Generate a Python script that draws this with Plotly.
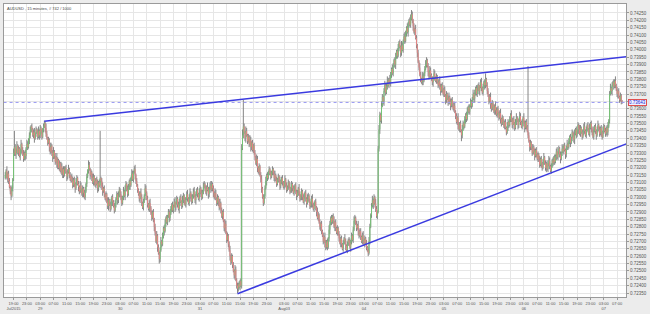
import plotly.graph_objects as go
import pandas as pd

# ---------------- data ----------------
title_text = "AUDUSD , 15 minutes, # 742 / 1000"
price_base = 0.72          # closes / wicks are given in 0.00001 units above this
pip_unit = 0.00001
first_open = 1130

close_pts = [
    1150, 1180, 1130, 1160, 1110, 1070, 1040, 1010, 1060, 1120, 1300, 1340, 1290, 1320, 1350, 1300, 1330, 1280, 1310, 1360,
    1320, 1290, 1260, 1300, 1280, 1330, 1360, 1340, 1390, 1420, 1450, 1480, 1460, 1420, 1440, 1400, 1430, 1460, 1440, 1410,
    1450, 1420, 1470, 1440, 1410, 1460, 1480, 1500, 1470, 1430, 1400, 1370, 1390, 1340, 1310, 1350, 1300, 1270, 1310, 1280,
    1240, 1270, 1220, 1250, 1200, 1230, 1180, 1210, 1160, 1190, 1150, 1180, 1200, 1170, 1140, 1170, 1190, 1150, 1120, 1140,
    1110, 1080, 1120, 1090, 1060, 1100, 1130, 1090, 1070, 1040, 1080, 1050, 1020, 1060, 1030, 1000, 1040, 1090, 1140, 1180,
    1220, 1190, 1150, 1170, 1130, 1100, 1140, 1110, 1080, 1120, 1090, 1060, 1100, 1080, 1130, 1110, 1070, 1040, 1060, 1020,
    990, 1020, 970, 940, 980, 950, 920, 960, 1000, 970, 940, 910, 950, 990, 1020, 980, 1010, 1050, 1020, 990,
    960, 1000, 1040, 1010, 1060, 1090, 1050, 1020, 1070, 1110, 1080, 1130, 1160, 1120, 1170, 1190, 1150, 1110, 1080, 1050,
    1020, 990, 1030, 1000, 960, 930, 970, 1010, 1060, 1030, 990, 950, 920, 960, 930, 890, 860, 900, 850, 800,
    760, 700, 740, 660, 620, 580, 640, 700, 680, 740, 790, 770, 820, 860, 830, 870, 900, 860, 890, 920,
    950, 910, 940, 970, 930, 960, 990, 950, 920, 960, 1000, 970, 940, 980, 1010, 980, 950, 990, 1020, 990,
    960, 1000, 1030, 1000, 970, 1010, 1040, 1010, 980, 1020, 1050, 1020, 990, 1030, 1060, 1030, 1000, 1040, 1070, 1090,
    1060, 1030, 1070, 1050, 1020, 1060, 1080, 1050, 1090, 1060, 1030, 1000, 1030, 990, 960, 1000, 970, 930, 960, 910,
    870, 900, 840, 790, 820, 760, 710, 740, 680, 640, 600, 560, 600, 540, 500, 470, 510, 440, 400, 380,
    410, 390, 430, 400, 1330, 1420, 1480, 1440, 1400, 1450, 1420, 1380, 1410, 1360, 1390, 1340, 1370, 1320, 1350, 1300,
    1270, 1230, 1260, 1200, 1170, 1210, 1150, 1120, 1060, 1000, 960, 1010, 1060, 1110, 1150, 1130, 1170, 1190, 1160, 1140,
    1170, 1190, 1160, 1130, 1150, 1120, 1090, 1120, 1140, 1110, 1080, 1100, 1130, 1100, 1070, 1090, 1120, 1080, 1050, 1070,
    1100, 1070, 1040, 1060, 1090, 1060, 1030, 1050, 1080, 1040, 1010, 1030, 1060, 1020, 990, 1010, 1040, 1000, 970, 1000,
    1030, 990, 960, 990, 1010, 970, 940, 960, 990, 950, 920, 950, 970, 930, 900, 860, 880, 830, 800, 820,
    770, 740, 700, 730, 690, 660, 700, 660, 720, 780, 820, 860, 830, 870, 840, 800, 830, 790, 760, 790,
    750, 720, 690, 720, 680, 650, 690, 720, 700, 670, 640, 680, 710, 690, 660, 700, 740, 710, 780, 840,
    860, 820, 790, 810, 770, 740, 770, 730, 700, 740, 710, 680, 720, 690, 660, 640, 620, 700, 800, 880,
    940, 980, 950, 1000, 960, 920, 870, 900, 1330, 1460, 1560, 1520, 1620, 1680, 1650, 1720, 1760, 1710, 1750, 1790,
    1760, 1800, 1780, 1830, 1870, 1840, 1890, 1930, 1900, 1950, 1990, 1960, 2010, 2050, 2020, 1980, 2030, 2000, 2060, 2090,
    2060, 2110, 2150, 2120, 2170, 2200, 2170, 2210, 2240, 2200, 2160, 2120, 2140, 2080, 2030, 1980, 1920, 1880, 1830, 1800,
    1780, 1820, 1790, 1840, 1870, 1900, 1930, 1890, 1850, 1820, 1860, 1830, 1800, 1780, 1810, 1840, 1810, 1790, 1820, 1780,
    1760, 1790, 1750, 1720, 1760, 1730, 1700, 1730, 1690, 1660, 1700, 1670, 1640, 1680, 1650, 1620, 1660, 1630, 1600, 1620,
    1580, 1550, 1510, 1540, 1490, 1460, 1500, 1450, 1420, 1460, 1500, 1480, 1530, 1560, 1530, 1580, 1610, 1580, 1620, 1650,
    1620, 1660, 1700, 1670, 1710, 1740, 1700, 1730, 1760, 1720, 1750, 1780, 1740, 1710, 1750, 1780, 1760, 1800, 1760, 1720,
    1690, 1650, 1680, 1630, 1600, 1640, 1610, 1580, 1620, 1590, 1560, 1600, 1570, 1540, 1570, 1530, 1500, 1540, 1510, 1480,
    1510, 1470, 1440, 1480, 1510, 1490, 1530, 1560, 1520, 1490, 1530, 1500, 1470, 1510, 1540, 1520, 1490, 1520, 1550, 1510,
    1480, 1510, 1540, 1500, 1470, 1510, 1480, 1450, 1420, 1380, 1340, 1370, 1330, 1300, 1340, 1310, 1280, 1320, 1290, 1260,
    1290, 1250, 1220, 1260, 1230, 1200, 1240, 1270, 1230, 1200, 1230, 1190, 1220, 1250, 1210, 1180, 1210, 1250, 1230, 1270,
    1240, 1280, 1310, 1270, 1300, 1330, 1290, 1260, 1300, 1330, 1310, 1350, 1320, 1290, 1330, 1360, 1340, 1380, 1410, 1370,
    1400, 1440, 1420, 1390, 1430, 1460, 1420, 1450, 1490, 1460, 1430, 1470, 1440, 1410, 1450, 1480, 1450, 1420, 1460, 1490,
    1460, 1430, 1470, 1500, 1470, 1440, 1410, 1450, 1480, 1450, 1420, 1460, 1490, 1460, 1430, 1470, 1440, 1410, 1450, 1480,
    1450, 1430, 1470, 1440, 1480, 1520, 1700, 1740, 1720, 1760, 1780, 1750, 1790, 1760, 1730, 1700, 1720, 1680, 1660, 1690,
    1650, 1643,
]

# wick lengths above / below the candle body, in units of 10 x 0.00001
wick_up = [
    2, 1, 3, 1, 2, 2, 1, 3, 2, 1, 3, 11, 2, 1, 3, 1, 2, 1, 2, 3,
    1, 2, 3, 1, 2, 1, 3, 2, 1, 2, 3, 1, 2, 1, 2, 3, 1, 2, 1, 2,
    3, 1, 2, 1, 2, 1, 2, 2, 1, 3, 2, 1, 2, 1, 3, 2, 1, 2, 3, 1,
    2, 1, 3, 2, 1, 2, 1, 3, 2, 1, 2, 3, 1, 2, 1, 2, 3, 1, 2, 1,
    2, 3, 1, 2, 1, 3, 2, 1, 2, 1, 3, 2, 1, 2, 1, 2, 3, 1, 2, 1,
    3, 2, 1, 2, 1, 3, 2, 1, 2, 1, 2, 3, 1, 2, 32, 1, 2, 3, 1, 2,
    1, 2, 1, 3, 2, 1, 2, 3, 1, 2, 1, 2, 3, 1, 2, 1, 3, 2, 1, 2,
    2, 1, 3, 1, 2, 2, 1, 3, 2, 1, 2, 1, 3, 2, 1, 2, 3, 1, 2, 1,
    1, 2, 1, 3, 2, 1, 2, 1, 3, 2, 1, 2, 1, 2, 3, 1, 2, 1, 2, 1,
    2, 1, 3, 1, 2, 1, 2, 3, 1, 2, 1, 2, 3, 1, 2, 1, 2, 1, 3, 2,
    1, 2, 1, 2, 3, 1, 2, 1, 2, 3, 1, 2, 1, 3, 2, 1, 2, 1, 2, 3,
    1, 2, 3, 1, 2, 1, 2, 3, 1, 2, 1, 2, 1, 3, 2, 1, 2, 1, 3, 2,
    1, 2, 1, 3, 2, 1, 2, 3, 2, 1, 2, 1, 3, 2, 1, 2, 1, 2, 3, 1,
    2, 1, 2, 1, 3, 2, 1, 2, 1, 2, 3, 1, 2, 1, 2, 1, 3, 2, 1, 2,
    1, 2, 1, 2, 3, 4, 18, 2, 1, 3, 2, 1, 2, 1, 3, 2, 1, 2, 1, 2,
    2, 1, 3, 2, 1, 2, 1, 2, 3, 1, 2, 1, 2, 3, 1, 2, 1, 2, 1, 2,
    1, 2, 1, 2, 3, 1, 2, 1, 2, 1, 3, 2, 1, 2, 1, 2, 3, 1, 2, 1,
    2, 1, 3, 1, 2, 1, 2, 3, 1, 2, 1, 2, 1, 3, 2, 1, 2, 1, 2, 3,
    1, 2, 1, 3, 2, 1, 2, 1, 2, 3, 1, 2, 1, 2, 1, 3, 2, 1, 2, 1,
    2, 1, 2, 1, 3, 2, 1, 2, 1, 3, 2, 1, 2, 1, 2, 3, 1, 2, 1, 2,
    1, 2, 3, 1, 2, 1, 2, 1, 3, 2, 1, 2, 1, 2, 3, 1, 2, 1, 2, 3,
    2, 1, 2, 1, 3, 2, 1, 2, 1, 2, 3, 1, 2, 1, 2, 1, 2, 3, 2, 1,
    2, 3, 1, 2, 1, 3, 2, 1, 2, 3, 2, 1, 3, 2, 1, 2, 3, 1, 2, 3,
    2, 1, 3, 2, 1, 3, 2, 1, 2, 3, 1, 2, 3, 1, 2, 1, 3, 2, 1, 2,
    3, 2, 1, 3, 2, 1, 2, 3, 3, 2, 1, 2, 1, 3, 2, 1, 2, 1, 3, 2,
    1, 3, 2, 1, 2, 3, 2, 1, 2, 1, 3, 2, 1, 2, 1, 3, 2, 1, 2, 1,
    2, 1, 3, 2, 1, 2, 1, 3, 2, 1, 2, 1, 2, 3, 1, 2, 1, 2, 1, 3,
    2, 1, 2, 1, 3, 2, 1, 2, 1, 3, 2, 1, 2, 1, 2, 3, 1, 2, 1, 2,
    1, 2, 3, 1, 2, 1, 2, 3, 1, 2, 1, 2, 3, 1, 2, 1, 2, 4, 1, 2,
    2, 1, 2, 3, 1, 2, 1, 2, 1, 3, 2, 1, 2, 1, 2, 3, 1, 2, 1, 2,
    1, 2, 1, 3, 2, 1, 2, 1, 3, 2, 1, 2, 1, 2, 3, 1, 2, 1, 3, 2,
    1, 2, 1, 3, 2, 1, 2, 1, 44, 2, 1, 2, 1, 3, 2, 1, 2, 1, 2, 1,
    2, 1, 3, 1, 2, 1, 2, 3, 1, 2, 1, 2, 1, 3, 2, 1, 2, 1, 2, 1,
    2, 1, 2, 3, 1, 2, 1, 2, 1, 3, 2, 1, 2, 1, 2, 3, 1, 2, 1, 2,
    1, 2, 1, 2, 3, 1, 2, 1, 2, 1, 3, 2, 1, 2, 1, 2, 3, 1, 2, 1,
    2, 1, 3, 1, 2, 1, 2, 3, 1, 2, 1, 2, 3, 1, 2, 1, 2, 1, 3, 2,
    1, 2, 1, 2, 3, 1, 2, 3, 1, 2, 1, 2, 1, 3, 1, 2, 1, 2, 1, 2,
    1, 1,
]

wick_dn = [
    1, 2, 1, 3, 2, 1, 2, 3, 1, 2, 1, 2, 1, 3, 2, 1, 2, 1, 3, 2,
    2, 1, 2, 1, 3, 2, 1, 2, 1, 3, 2, 1, 2, 1, 2, 3, 1, 2, 1, 2,
    1, 3, 2, 1, 2, 1, 2, 1, 3, 2, 1, 2, 1, 3, 2, 1, 2, 3, 1, 2,
    2, 1, 2, 3, 1, 2, 1, 2, 1, 3, 2, 1, 2, 1, 3, 2, 1, 2, 1, 2,
    1, 2, 1, 2, 3, 1, 2, 1, 3, 2, 1, 2, 1, 2, 3, 1, 2, 1, 2, 1,
    2, 1, 3, 1, 2, 1, 2, 3, 1, 2, 1, 3, 2, 1, 2, 1, 2, 3, 1, 2,
    1, 2, 1, 2, 3, 1, 2, 1, 2, 3, 1, 2, 1, 2, 1, 3, 2, 1, 2, 1,
    2, 1, 2, 1, 3, 2, 1, 2, 1, 2, 3, 1, 2, 1, 2, 1, 3, 2, 1, 2,
    1, 2, 3, 1, 2, 1, 2, 1, 3, 2, 1, 2, 1, 2, 3, 1, 2, 1, 2, 3,
    2, 1, 2, 3, 1, 3, 2, 1, 2, 1, 2, 3, 1, 2, 1, 2, 1, 3, 2, 1,
    2, 1, 2, 1, 3, 2, 1, 2, 1, 3, 2, 1, 2, 1, 2, 3, 1, 2, 1, 2,
    1, 2, 1, 3, 2, 1, 2, 1, 2, 3, 1, 2, 1, 2, 3, 1, 2, 1, 2, 1,
    2, 1, 2, 1, 3, 2, 1, 2, 1, 2, 3, 1, 2, 1, 2, 1, 3, 2, 1, 2,
    1, 2, 1, 2, 3, 1, 2, 1, 2, 1, 3, 2, 1, 2, 1, 2, 3, 1, 2, 3,
    2, 1, 2, 1, 2, 1, 2, 1, 2, 3, 1, 2, 1, 2, 1, 3, 2, 1, 2, 1,
    2, 1, 2, 3, 1, 2, 1, 2, 3, 1, 2, 1, 2, 1, 3, 2, 1, 2, 1, 2,
    1, 2, 1, 2, 3, 1, 2, 1, 2, 1, 3, 2, 1, 2, 1, 2, 3, 1, 2, 1,
    2, 1, 2, 1, 3, 2, 1, 2, 1, 2, 3, 1, 2, 1, 2, 1, 3, 2, 1, 2,
    1, 2, 3, 1, 2, 1, 2, 1, 3, 2, 1, 2, 1, 2, 3, 1, 2, 1, 2, 3,
    2, 1, 2, 1, 3, 2, 1, 2, 1, 2, 3, 1, 2, 1, 2, 1, 3, 2, 1, 2,
    1, 2, 1, 3, 2, 1, 2, 1, 2, 3, 1, 2, 1, 2, 1, 3, 2, 1, 2, 1,
    2, 1, 2, 1, 3, 2, 1, 2, 1, 2, 3, 1, 2, 1, 2, 1, 2, 1, 2, 1,
    2, 1, 3, 2, 1, 2, 1, 2, 1, 2, 3, 1, 2, 1, 2, 3, 1, 2, 1, 2,
    1, 2, 1, 3, 2, 1, 2, 1, 2, 3, 1, 2, 1, 2, 1, 3, 2, 1, 2, 1,
    2, 1, 2, 1, 3, 2, 1, 2, 1, 2, 3, 1, 2, 1, 2, 3, 1, 2, 1, 2,
    1, 2, 3, 1, 2, 1, 2, 1, 3, 2, 1, 2, 1, 2, 3, 1, 2, 1, 2, 1,
    2, 1, 2, 3, 1, 2, 1, 2, 1, 3, 2, 1, 2, 1, 2, 3, 1, 2, 1, 2,
    1, 2, 1, 2, 3, 1, 2, 1, 4, 2, 1, 2, 1, 3, 2, 1, 2, 1, 2, 1,
    2, 1, 2, 1, 3, 2, 1, 2, 1, 2, 3, 1, 2, 1, 2, 1, 3, 2, 1, 2,
    1, 2, 1, 3, 2, 1, 2, 1, 2, 3, 1, 2, 1, 2, 1, 3, 2, 1, 2, 1,
    2, 1, 2, 1, 3, 2, 1, 2, 1, 2, 3, 1, 2, 1, 2, 1, 3, 2, 1, 2,
    1, 2, 1, 2, 3, 1, 2, 1, 2, 1, 3, 2, 1, 2, 1, 2, 3, 1, 2, 1,
    2, 1, 2, 1, 3, 2, 1, 2, 1, 2, 3, 1, 2, 1, 2, 1, 2, 1, 2, 1,
    2, 1, 3, 1, 2, 1, 2, 3, 1, 2, 1, 2, 1, 3, 2, 1, 2, 1, 2, 3,
    1, 2, 1, 2, 3, 1, 2, 1, 2, 3, 1, 2, 1, 2, 1, 3, 2, 1, 2, 1,
    2, 1, 2, 1, 3, 2, 1, 2, 1, 2, 3, 1, 2, 1, 2, 1, 3, 2, 1, 2,
    1, 2, 1, 3, 2, 1, 2, 1, 2, 3, 1, 2, 1, 2, 1, 2, 3, 1, 2, 1,
    2, 1,
]

# user-drawn trend lines (bar index, price)
upper_line_bars = [47, 746]
upper_line_prices = [0.73515, 0.73953]
lower_line_bars = [279, 746]
lower_line_prices = [0.72345, 0.73362]
last_price = 0.73643

# price-axis labels (right side)
price_ticks = [round(0.7235 + 0.0005 * k, 4) for k in range(39)]
price_labels = ["%.5f" % p for p in price_ticks]

tick_hours = [3, 7, 11, 15, 19, 23]
date_hour = 3

# ---------------- build ----------------
n = len(close_pts)
opens = [first_open] + close_pts[:-1]
O = [price_base + v * pip_unit for v in opens]
C = [price_base + v * pip_unit for v in close_pts]
H = [price_base + (max(o, c) + 10 * u) * pip_unit for o, c, u in zip(opens, close_pts, wick_up)]
L = [price_base + (min(o, c) - 10 * d) * pip_unit for o, c, d in zip(opens, close_pts, wick_dn)]

session1 = pd.date_range("2015-07-28 16:30", "2015-07-31 23:45", freq="15min")
session2 = pd.date_range("2015-08-02 22:45", periods=n - len(session1), freq="15min")
times = session1.append(session2)

tickvals, ticktext = [], []
prev_month = None
for i, t in enumerate(times):
    if t.minute == 0 and t.hour in tick_hours and t.dayofweek != 6:
        lab = t.strftime("%H:%M")
        if not tickvals:
            lab += "<br>" + t.strftime("%b%Y")
            prev_month = t.month
        elif t.hour == date_hour:
            if t.month != prev_month:
                lab += "<br>" + t.strftime("%b%d")
                prev_month = t.month
            else:
                lab += "<br>" + t.strftime("%d")
        tickvals.append(i)
        ticktext.append(lab)

wx, wy = [], []
ux, uy, dx, dy = [], [], [], []
for i in range(n):
    wx += [i, i, None]
    wy += [L[i], H[i], None]
    if C[i] >= O[i]:
        ux += [i, i, None]
        uy += [O[i], C[i], None]
    else:
        dx += [i, i, None]
        dy += [O[i], C[i], None]

fig = go.Figure()
fig.add_trace(go.Scatter(x=wx, y=wy, mode="lines", line=dict(color="#858585", width=1),
                         hoverinfo="skip", showlegend=False))
fig.add_trace(go.Scatter(x=ux, y=uy, mode="lines", line=dict(color="#74c474", width=1),
                         hoverinfo="skip", showlegend=False))
fig.add_trace(go.Scatter(x=dx, y=dy, mode="lines", line=dict(color="#e68484", width=1),
                         hoverinfo="skip", showlegend=False))
fig.add_trace(go.Scatter(x=[-2, 747], y=[last_price, last_price], mode="lines",
                         line=dict(color="#9a9af2", width=1, dash="dot"), showlegend=False))
fig.add_trace(go.Scatter(x=upper_line_bars, y=upper_line_prices, mode="lines",
                         line=dict(color="#3a3ae0", width=1.5), showlegend=False))
fig.add_trace(go.Scatter(x=lower_line_bars, y=lower_line_prices, mode="lines",
                         line=dict(color="#3a3ae0", width=1.5), showlegend=False))

fam = "Liberation Sans, Arial, sans-serif"
fig.update_layout(
    width=650, height=314,
    margin=dict(l=3, r=18, t=4, b=15),
    paper_bgcolor="#ececec", plot_bgcolor="white",
    showlegend=False,
    xaxis=dict(range=[-1.5, 745.7], tickmode="array", tickvals=tickvals, ticktext=ticktext,
               tickangle=0, tickfont=dict(family=fam, size=4, color="#555555"),
               showgrid=True, gridcolor="#e6e6e6", gridwidth=1,
               ticks="outside", ticklen=2, tickcolor="#999999",
               showline=True, linecolor="#9a9a9a", linewidth=1, mirror=True, zeroline=False),
    yaxis=dict(range=[0.72323, 0.74311], side="right", tickmode="array",
               tickvals=price_ticks, ticktext=price_labels,
               tickfont=dict(family=fam, size=4.5, color="#555555"),
               showgrid=True, gridcolor="#e6e6e6",
               gridwidth=1, ticks="outside", ticklen=2, tickcolor="#999999",
               showline=True, linecolor="#9a9a9a", linewidth=1, mirror=True, zeroline=False),
    annotations=[
        dict(text=title_text, x=0, y=1, xref="paper", yref="paper", xanchor="left",
             yanchor="top", showarrow=False, xshift=1,
             font=dict(family=fam, size=4, color="#444444")),
        dict(text="%.5f" % last_price, x=1, y=last_price, xref="paper", yref="y",
             xanchor="left", yanchor="middle", showarrow=False, xshift=2,
             bgcolor="#eef0ff", bordercolor="#e05050", borderwidth=1, borderpad=0,
             font=dict(family=fam, size=4.5, color="#2020d0")),
    ],
)

fig.write_html("out.html")
